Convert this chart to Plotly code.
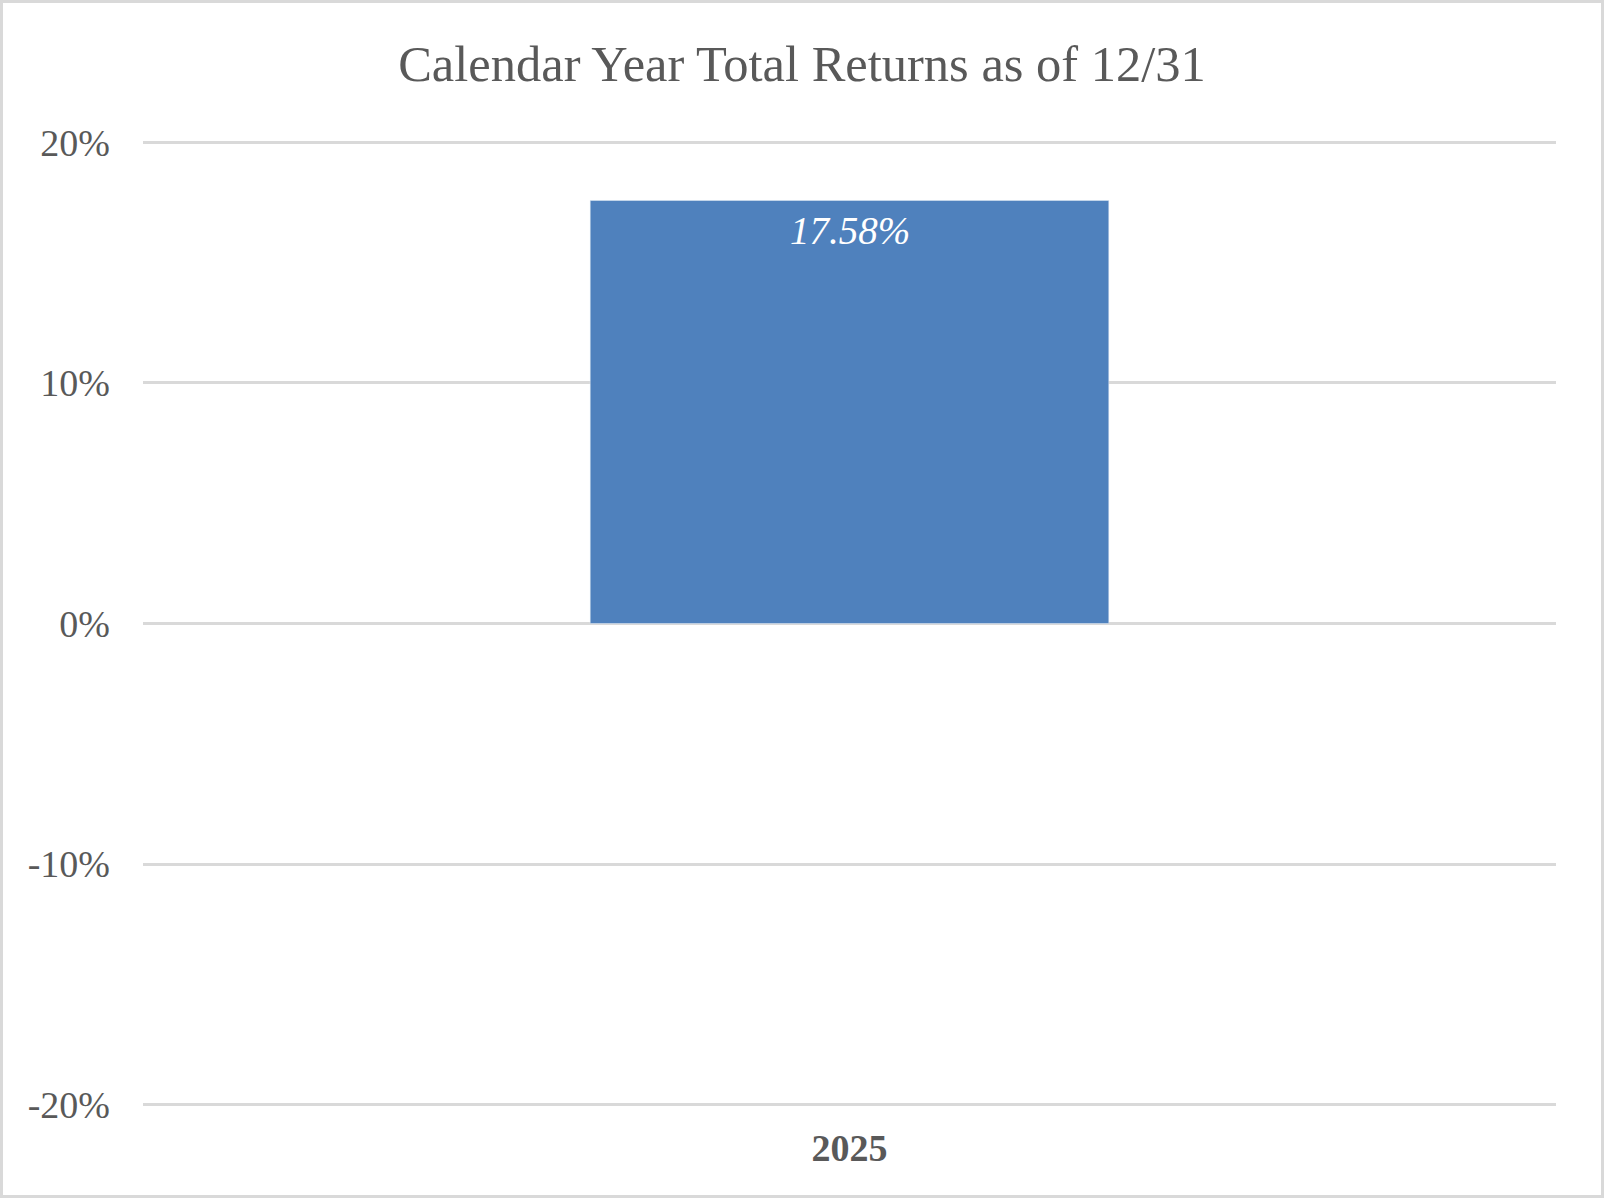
import plotly.graph_objects as go

years = ["2025"]
returns = [17.58]
labels = ["17.58%"]
tick_vals = [-20, -10, 0, 10, 20]
tick_text = ["-20%", "-10%", "0%", "10%", "20%"]

W, H = 1604, 1198
L, R, T, B = 143, 48, 135, 86

fig = go.Figure()

fig.add_trace(go.Bar(
    x=years,
    y=returns,
    width=0.367,
    marker_color="#4F81BD",
    hoverinfo="skip"
))

# data labels sit just inside the top of each bar
# (category axis: annotation x is the category's index)
for i, (val, lab) in enumerate(zip(returns, labels)):
    fig.add_annotation(
        x=i,
        y=val,
        text=lab,
        showarrow=False,
        yanchor="middle",
        yshift=-30,
        font=dict(family="Liberation Serif", size=39, color="white", style="italic")
    )

fig.update_layout(
    width=W,
    height=H,
    margin=dict(l=L, r=R, t=T, b=B),
    paper_bgcolor="white",
    plot_bgcolor="white",
    showlegend=False,
    font=dict(family="Liberation Serif", color="#595959", size=38),
    title=dict(
        text="Calendar Year Total Returns as of 12/31",
        x=0.5,
        xanchor="center",
        y=1 - 63 / H,
        yanchor="middle",
        font=dict(family="Liberation Serif", size=50.5, color="#595959")
    ),
    xaxis=dict(
        type="category",
        range=[-0.5, len(years) - 0.5],
        showgrid=False,
        showline=False,
        zeroline=False,
        ticks="",
        ticklabelstandoff=10,
        tickfont=dict(family="Liberation Serif", size=38, color="#595959", weight="bold")
    ),
    yaxis=dict(
        range=[-20.3, 20.3],
        tickvals=tick_vals,
        ticktext=tick_text,
        showgrid=True,
        gridcolor="#D9D9D9",
        gridwidth=2.5,
        zeroline=True,
        zerolinecolor="#D9D9D9",
        zerolinewidth=2.5,
        showline=False,
        ticks="",
        ticklabelstandoff=32,
        tickfont=dict(family="Liberation Serif", size=38, color="#595959")
    ),
    shapes=[dict(
        type="rect",
        xref="paper", yref="paper",
        x0=-(L - 1.5) / (W - L - R), x1=1 + (R - 1.5) / (W - L - R),
        y0=-(B - 1.5) / (H - T - B), y1=1 + (T - 1.5) / (H - T - B),
        line=dict(color="#D9D9D9", width=3),
        layer="below"
    )]
)

fig.write_html(
    "out.html",
    config={"displayModeBar": False},
    post_script="document.body.style.margin='0';"
)
